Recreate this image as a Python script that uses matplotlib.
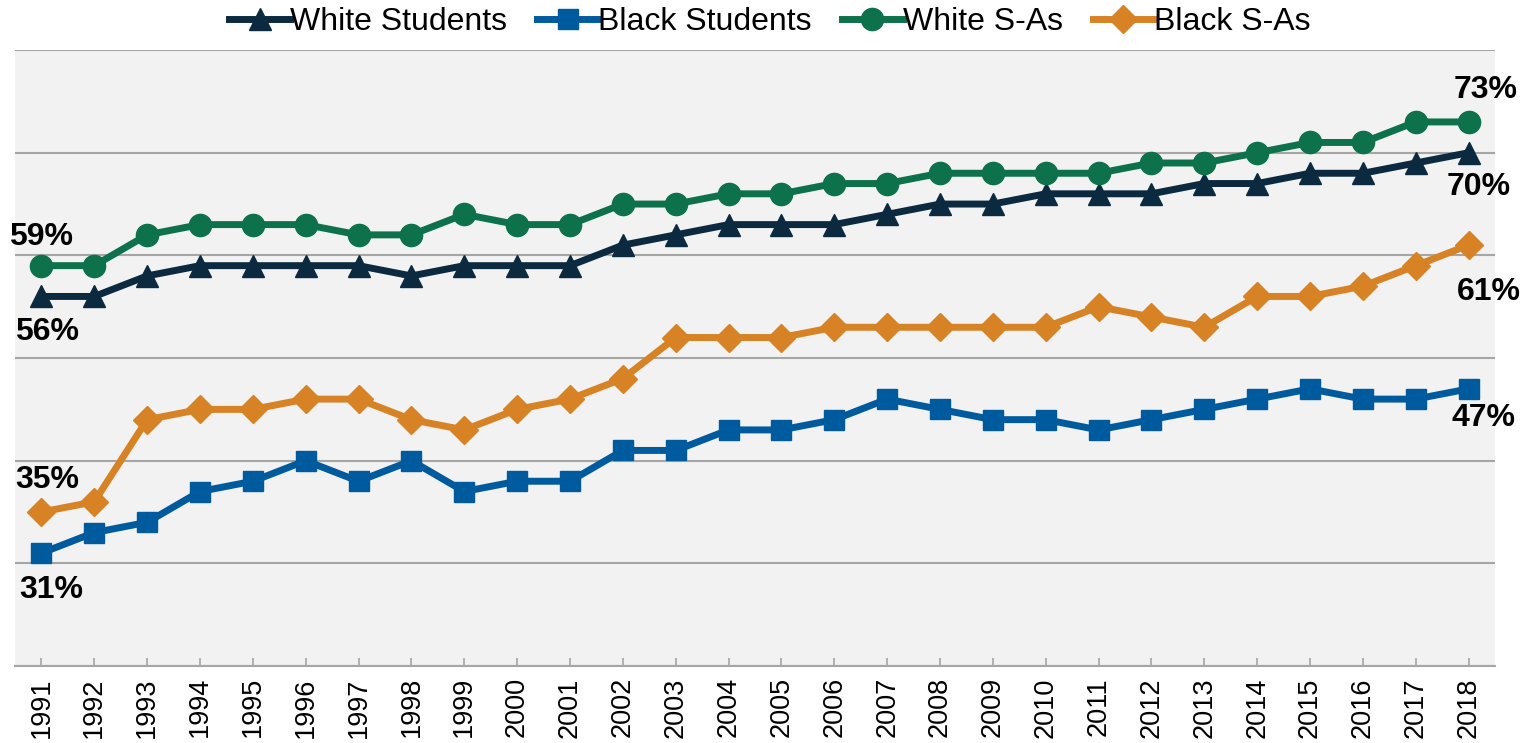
import matplotlib.pyplot as plt

plt.rcParams['font.family'] = ['Liberation Sans', 'DejaVu Sans']

years = list(range(1991, 2019))

white_students = [56, 56, 58, 59, 59, 59, 59, 58, 59, 59, 59, 61, 62, 63, 63, 63, 64, 65, 65, 66,
                  66, 66, 67, 67, 68, 68, 69, 70]
black_students = [31, 33, 34, 37, 38, 40, 38, 40, 37, 38, 38, 41, 41, 43, 43, 44, 46, 45, 44, 44,
                  43, 44, 45, 46, 47, 46, 46, 47]
white_sas = [59, 59, 62, 63, 63, 63, 62, 62, 64, 63, 63, 65, 65, 66, 66, 67, 67, 68, 68, 68,
             68, 69, 69, 70, 71, 71, 73, 73]
black_sas = [35, 36, 44, 45, 45, 46, 46, 44, 43, 45, 46, 48, 52, 52, 52, 53, 53, 53, 53, 53,
             55, 54, 53, 56, 56, 57, 59, 61]

series = [
    ('White Students', white_students, '#0b2a40', '^', 16),
    ('Black Students', black_students, '#005b9e', 's', 15),
    ('White S-As', white_sas, '#0d714b', 'o', 16),
    ('Black S-As', black_sas, '#d68225', 'D', 14),
]

# label offsets in pixels: (start dx, dy), (end dx, dy)
offsets = {
    'White Students': ((6, -36), (10, -34)),
    'Black Students': ((10, -37), (15, -29)),
    'White S-As': ((0, 29), (17, 32)),
    'Black S-As': ((6, 32), (20, -47)),
}

fig = plt.figure(figsize=(15.28, 7.43), dpi=100)
ax = fig.add_axes([0.0098, 0.1036, 0.9686, 0.829])
ax.set_facecolor('#f2f2f2')

x = list(range(len(years)))
for name, vals, color, mk, ms in series:
    ax.plot(x, vals, color=color, lw=5, marker=mk, ms=ms, label=name, zorder=3)
    (sdx, sdy), (edx, edy) = offsets[name]
    ax.annotate(f'{vals[0]}%', (x[0], vals[0]), xytext=(sdx, sdy), textcoords='offset pixels',
                ha='center', va='center', fontsize=23, fontweight='bold', color='black')
    ax.annotate(f'{vals[-1]}%', (x[-1], vals[-1]), xytext=(edx, edy), textcoords='offset pixels',
                ha='center', va='center', fontsize=23, fontweight='bold', color='black')

ax.set_xlim(-0.5, len(years) - 0.5)
ax.set_ylim(20, 80)
ax.set_yticks(range(20, 81, 10))
ax.yaxis.grid(True, color='#a6a6a6', lw=1.5)
ax.set_axisbelow(True)
ax.tick_params(axis='y', left=False, labelleft=False)
ax.set_xticks(x)
ax.set_xticklabels([str(y) for y in years], rotation=90, fontsize=19.5)
ax.tick_params(axis='x', direction='in', length=6, color='#a6a6a6', width=1.2, pad=8)
for s in ['top', 'right', 'left']:
    ax.spines[s].set_visible(False)
ax.spines['bottom'].set_color('#a6a6a6')
ax.spines['bottom'].set_linewidth(1.5)

ax.legend(loc='lower center', bbox_to_anchor=(0.51, 0.995), ncol=4, frameon=False, fontsize=23,
          handlelength=1.9, handletextpad=0.0, columnspacing=0.95, borderaxespad=0.1)

fig.savefig('out.png', dpi=100)
